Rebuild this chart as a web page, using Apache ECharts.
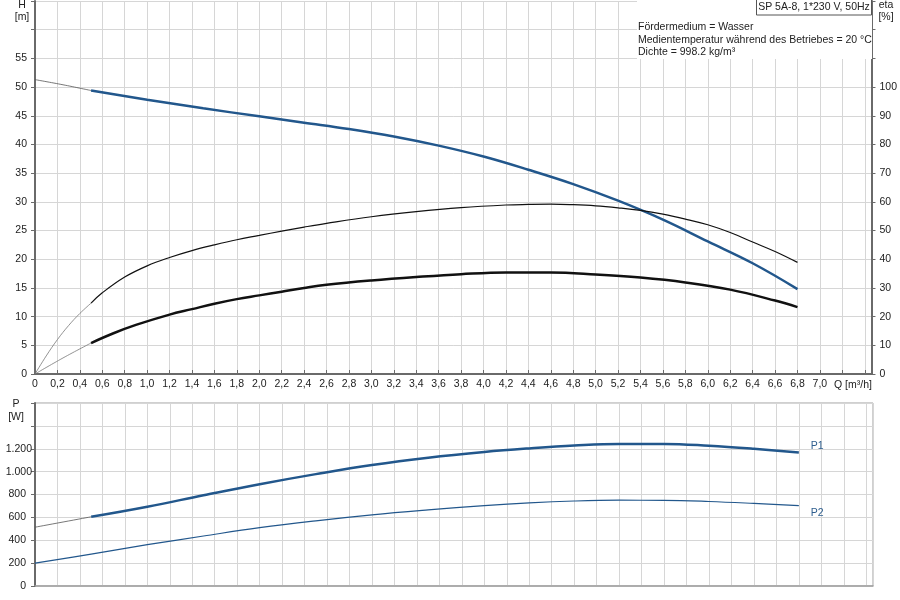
<!DOCTYPE html>
<html>
<head>
    <meta charset="utf-8" />
    <title>SP 5A-8 Kennlinien</title>
    <script src="https://cdn.jsdelivr.net/npm/echarts@6.0.0/dist/echarts.min.js"></script>
    <style type="text/css">
        html, body { margin: 0; padding: 0; background: #fff; }
        #chart { width: 900px; height: 600px; }
    </style>
</head>
<body>
    <div id="chart"></div>
    <script>
        // Förderhöhe H [m] über Q [m³/h]
        var qHeadStart = [0, 0.25, 0.5];
        var headStart = [51.3, 50.4, 49.4];
        var qHead = [0.5, 1.0, 1.5, 2.0, 2.4, 2.8, 3.2, 3.6, 4.0, 4.4, 4.8, 5.2, 5.6, 6.0, 6.4, 6.8];
        var head = [49.4, 47.8, 46.3, 44.9, 43.8, 42.7, 41.4, 39.8, 37.9, 35.6, 33.1, 30.2, 26.9, 23.1, 19.3, 14.8];

        // Wirkungsgrad Pumpe (dünne Linie) [%]
        var qEtaPumpStart = [0, 0.1, 0.2, 0.3, 0.4, 0.5];
        var etaPumpStart = [0, 6.3, 12.0, 16.9, 21.1, 24.7];
        var qEtaPump = [0.5, 0.6, 0.8, 1.0, 1.2, 1.4, 1.6, 1.8, 2.0, 2.2, 2.4, 2.6, 3.0, 3.4, 3.8, 4.2, 4.4, 4.6, 4.8, 5.0, 5.2, 5.4, 5.6, 5.8, 6.0, 6.2, 6.4, 6.6, 6.8];
        var etaPump = [24.7, 28.3, 33.8, 37.7, 40.6, 43.0, 45.0, 46.8, 48.3, 49.8, 51.2, 52.5, 54.8, 56.6, 58.0, 58.9, 59.1, 59.2, 59.0, 58.6, 57.9, 57.0, 55.7, 54.0, 52.0, 49.3, 46.0, 42.7, 38.9];

        // Wirkungsgrad gesamt (dicke Linie) [%]
        var qEtaTotalStart = [0, 0.25, 0.5];
        var etaTotalStart = [0, 5.6, 10.8];
        var qEtaTotal = [0.5, 0.7, 0.9, 1.2, 1.4, 1.6, 1.8, 2.0, 2.2, 2.4, 2.6, 3.0, 3.4, 3.8, 4.2, 4.6, 5.0, 5.4, 5.8, 6.2, 6.6, 6.8];
        var etaTotal = [10.8, 14.2, 17.1, 20.7, 22.6, 24.5, 26.1, 27.4, 28.7, 30.0, 31.1, 32.6, 33.8, 34.8, 35.4, 35.4, 34.7, 33.6, 31.9, 29.4, 25.6, 23.3];

        // Leistung P1 / P2 [W]
        var qP1Start = [0, 0.5];
        var p1Start = [514, 605];
        var qP1 = [0.5, 1.0, 1.5, 2.0, 2.5, 3.0, 3.5, 4.0, 4.4, 4.8, 5.2, 5.6, 6.0, 6.4, 6.8];
        var p1 = [605, 693, 793, 890, 978, 1058, 1122, 1172, 1203, 1228, 1242, 1242, 1226, 1200, 1168];
        var qP2 = [0, 0.5, 1.0, 1.5, 2.0, 2.5, 3.0, 3.5, 4.0, 4.4, 4.8, 5.2, 5.6, 6.0, 6.4, 6.8];
        var p2 = [200, 279, 361, 437, 510, 570, 622, 665, 703, 727, 743, 750, 749, 739, 722, 702];

        var infoLines = ['Fördermedium = Wasser', 'Medientemperatur während des Betriebes = 20 °C', 'Dichte = 998.2 kg/m³'];
        var titleText = 'SP 5A-8, 1*230 V, 50Hz';

        var font = 'Liberation Sans, Arial, sans-serif';
        var fs = 10.5;
        var blue = '#22578c';
        var gridColor = '#d6d6d6';
        var axisColor = '#6a6a6a';

        function pairs(xs, ys) {
            return xs.map(function (x, i) { return [x, ys[i]]; });
        }

        function qLabel(v) {
            if (v > 7.01) return '';
            if (v === 0) return '0';
            return v.toFixed(1).replace('.', ',');
        }

        function line(name, xi, yi, data, color, width, extra) {
            var s = {
                name: name,
                type: 'line',
                xAxisIndex: xi,
                yAxisIndex: yi,
                data: data,
                smooth: 0.4,
                symbol: 'none',
                silent: true,
                lineStyle: { color: color, width: width },
                z: 5
            };
            return Object.assign(s, extra || {});
        }

        function txt(x, y, text, align, z) {
            return {
                type: 'text', x: x, y: y, z: z || 10,
                style: { text: text, font: fs + 'px ' + font, fill: '#222', align: align || 'left', verticalAlign: 'middle' }
            };
        }

        var chart = echarts.init(document.getElementById('chart'));

        var option = {
            animation: false,
            textStyle: { fontFamily: font },
            grid: [
                { left: 35, top: 1, width: 838, height: 373 },
                { left: 35, top: 403, width: 838, height: 183, show: true, borderColor: '#a0a0a0', borderWidth: 1 }
            ],
            xAxis: [
                {
                    type: 'value', gridIndex: 0, min: 0, max: 7.46, interval: 0.2,
                    axisLine: { onZero: false, lineStyle: { color: axisColor, width: 2 } },
                    axisTick: { inside: true, length: 4, lineStyle: { color: axisColor } },
                    axisLabel: { margin: 5, color: '#222', fontSize: fs, fontFamily: font, formatter: qLabel, showMaxLabel: true },
                    splitLine: { lineStyle: { color: gridColor, width: 1 } }
                },
                {
                    type: 'value', gridIndex: 1, min: 0, max: 7.46, interval: 0.2,
                    axisLine: { onZero: false, lineStyle: { color: '#a0a0a0', width: 1.5 } },
                    axisTick: { show: false },
                    axisLabel: { show: false },
                    splitLine: { lineStyle: { color: gridColor, width: 1 } }
                }
            ],
            yAxis: [
                {
                    type: 'value', gridIndex: 0, min: 0, max: 65, interval: 5,
                    axisLine: { show: true, lineStyle: { color: axisColor, width: 2 } },
                    axisTick: { show: true, length: 4, lineStyle: { color: axisColor } },
                    axisLabel: {
                        margin: 8, color: '#222', fontSize: fs, fontFamily: font,
                        formatter: function (v) { return v > 55 ? '' : String(v); }
                    },
                    splitLine: { lineStyle: { color: gridColor, width: 1 } }
                },
                {
                    type: 'value', gridIndex: 0, position: 'right', min: 0, max: 130, interval: 10,
                    axisLine: { show: true, lineStyle: { color: axisColor, width: 2 } },
                    axisTick: { show: true, length: 4, lineStyle: { color: axisColor } },
                    axisLabel: {
                        margin: 8, color: '#222', fontSize: fs, fontFamily: font,
                        formatter: function (v) { return v > 100 ? '' : String(v); }
                    },
                    splitLine: { show: false }
                },
                {
                    type: 'value', gridIndex: 1, min: 0, max: 1600, interval: 200,
                    axisLine: { show: true, lineStyle: { color: axisColor, width: 2 } },
                    axisTick: { show: true, length: 4, lineStyle: { color: axisColor } },
                    axisLabel: {
                        margin: 3, color: '#222', fontSize: fs, fontFamily: font,
                        formatter: function (v) {
                            if (v > 1200) return '';
                            if (v >= 1000) return String(v).replace(/(\d)(\d{3})$/, '$1.$2');
                            return '{s|' + v + '}';
                        },
                        rich: { s: { fontSize: fs, fontFamily: font, color: '#222', padding: [0, 6, 0, 0] } }
                    },
                    splitLine: { lineStyle: { color: gridColor, width: 1 } }
                }
            ],
            series: [
                // Förderhöhe
                line('H start', 0, 0, pairs(qHeadStart, headStart), '#555', 0.8),
                line('H', 0, 0, pairs(qHead, head), blue, 2.5),
                // Wirkungsgrade
                line('eta pump start', 0, 1, pairs(qEtaPumpStart, etaPumpStart), '#777', 0.8),
                line('eta pump', 0, 1, pairs(qEtaPump, etaPump), '#111', 1.2),
                line('eta total start', 0, 1, pairs(qEtaTotalStart, etaTotalStart), '#777', 0.8),
                line('eta total', 0, 1, pairs(qEtaTotal, etaTotal), '#111', 2.5),
                // Leistung
                line('P1 start', 1, 2, pairs(qP1Start, p1Start), '#555', 0.8),
                line('P1', 1, 2, pairs(qP1, p1), blue, 2.5, {
                    endLabel: { show: true, formatter: 'P1', offset: [4, -6], color: '#2f5f8f', fontSize: fs, fontFamily: font }
                }),
                line('P2', 1, 2, pairs(qP2, p2), blue, 1.2, {
                    endLabel: { show: true, formatter: 'P2', offset: [4, 7], color: '#2f5f8f', fontSize: fs, fontFamily: font }
                })
            ],
            graphic: [
                // weißer Hintergrund für den Infoblock
                { type: 'rect', shape: { x: 637, y: 0, width: 235, height: 59 }, style: { fill: '#fff' }, z: 100 },
                txt(638, 27, infoLines[0], 'left', 101),
                txt(638, 40, infoLines[1], 'left', 101),
                txt(638, 52, infoLines[2], 'left', 101),
                // Titelbox
                { type: 'rect', shape: { x: 756.5, y: -1, width: 115, height: 16 }, style: { fill: '#fff', stroke: '#555', lineWidth: 1 }, z: 102 },
                txt(814, 7.5, titleText, 'center', 103),
                // Achsentitel
                txt(22, 5, 'H', 'center'),
                txt(22, 17, '[m]', 'center'),
                txt(886, 5, 'eta', 'center'),
                txt(886, 17, '[%]', 'center'),
                txt(834, 385, 'Q [m³/h]', 'left'),
                txt(16, 404, 'P', 'center'),
                txt(16, 417, '[W]', 'center')
            ]
        };

        chart.setOption(option);
    </script>
</body>
</html>
